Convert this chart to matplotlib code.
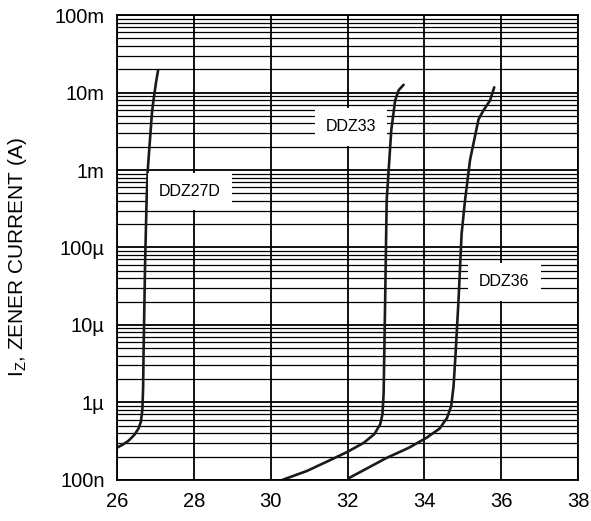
import matplotlib.pyplot as plt
from matplotlib.ticker import LogLocator, NullFormatter

plt.rcParams['font.family'] = ['Liberation Sans', 'DejaVu Sans']

# zener voltage (V) vs current (A)
ddz27d_v = [26.0, 26.15, 26.3, 26.45, 26.56, 26.62, 26.66, 26.68, 26.69, 26.73, 26.77, 26.80, 26.91, 26.95, 27.02, 27.07]
ddz27d_i = [2.6e-7, 2.85e-7, 3.2e-7, 3.8e-7, 4.6e-7, 5.6e-7, 8e-7, 1.6e-6, 4e-6, 6e-5, 4.1e-4, 1.0e-3, 5.5e-3, 8e-3, 1.4e-2, 1.95e-2]

ddz33_v = [30.31, 30.94, 31.55, 32.0, 32.42, 32.7, 32.85, 32.91, 32.94, 32.98, 33.02, 33.14, 33.24, 33.33, 33.46]
ddz33_i = [1.0e-7, 1.3e-7, 1.8e-7, 2.3e-7, 3.0e-7, 3.9e-7, 5.2e-7, 7e-7, 1.3e-6, 2.1e-5, 4.1e-4, 3.3e-3, 7.9e-3, 1.07e-2, 1.26e-2]

ddz36_v = [32.03, 33.0, 33.6, 34.06, 34.4, 34.59, 34.70, 34.76, 34.81, 34.89, 34.97, 35.06, 35.19, 35.41, 35.54, 35.71, 35.82]
ddz36_i = [1.05e-7, 1.9e-7, 2.6e-7, 3.5e-7, 4.6e-7, 6.3e-7, 9e-7, 1.6e-6, 4e-6, 2.1e-5, 1.5e-4, 4.1e-4, 1.35e-3, 4.5e-3, 5.9e-3, 7.9e-3, 1.17e-2]

x_ticks = [26, 28, 30, 32, 34, 36, 38]
y_ticks = [1e-7, 1e-6, 1e-5, 1e-4, 1e-3, 1e-2, 1e-1]
y_tick_labels = ['100n', '1µ', '10µ', '100µ', '1m', '10m', '100m']

fig = plt.figure(figsize=(5.91, 5.21), dpi=100)
ax = fig.add_axes([0.198, 0.079, 0.780, 0.892])

ax.set_yscale('log')
ax.set_xlim(26, 38)
ax.set_ylim(1e-7, 1e-1)
ax.set_xticks(x_ticks)
ax.set_yticks(y_ticks)
ax.set_yticklabels(y_tick_labels)
ax.yaxis.set_minor_locator(LogLocator(base=10, subs=range(2, 10), numticks=20))
ax.yaxis.set_minor_formatter(NullFormatter())
ax.tick_params(which='both', length=0, labelsize=14.5, pad=9)
ax.grid(True, which='major', axis='both', color='black', lw=1.3)
ax.grid(True, which='minor', axis='y', color='black', lw=0.9)
for s in ax.spines.values():
    s.set_linewidth(1.3)

line_kw = dict(color='#1a1a1a', lw=1.9, solid_capstyle='round', solid_joinstyle='round')
ax.plot(ddz27d_v, ddz27d_i, **line_kw)
ax.plot(ddz33_v, ddz33_i, **line_kw)
ax.plot(ddz36_v, ddz36_i, **line_kw)

box = dict(facecolor='white', edgecolor='none', pad=8)
ax.text(27.9, 5.3e-4, 'DDZ27D', fontsize=11.5, ha='center', va='center', bbox=box)
ax.text(32.09, 3.6e-3, 'DDZ33', fontsize=11.5, ha='center', va='center', bbox=box)
ax.text(36.08, 3.6e-5, 'DDZ36', fontsize=11.5, ha='center', va='center', bbox=box)

ax.set_ylabel('I$_\\mathregular{Z}$, ZENER CURRENT (A)', fontsize=15)
ax.yaxis.set_label_coords(-0.19, 0.48)

fig.savefig('out.png', dpi=100)
